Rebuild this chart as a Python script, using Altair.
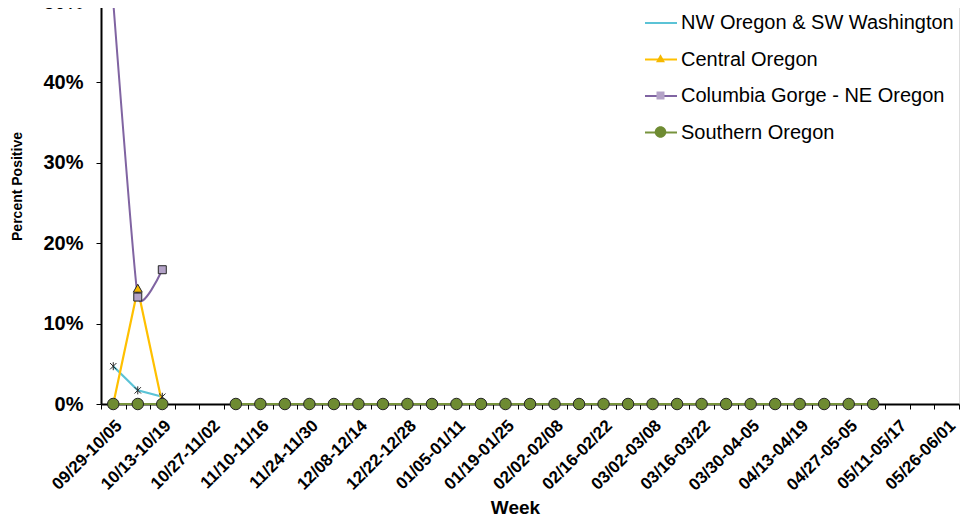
import json
import altair as alt
import pandas as pd

# ---------------- data ----------------
week_labels = ["09/29-10/05", "10/13-10/19", "10/27-11/02", "11/10-11/16", "11/24-11/30",
               "12/08-12/14", "12/22-12/28", "01/05-01/11", "01/19-01/25", "02/02-02/08",
               "02/16-02/22", "03/02-03/08", "03/16-03/22", "03/30-04-05", "04/13-04/19",
               "04/27-05-05", "05/11-05/17", "05/26-06/01"]
n_weeks = 35  # weekly categories; every other one is labelled

series_names = ["NW Oregon & SW Washington", "Central Oregon",
                "Columbia Gorge - NE Oregon", "Southern Oregon"]

nw_vals = [4.7, 1.7, 0.9]
central_vals = [0.0, 14.3, 0.0]
columbia_vals = [50.0, 13.3, 16.7]
southern_vals = [0, 0, 0, None, None, 0, 0, 0, 0, 0,
                 0, 0, 0, 0, 0, 0, 0, 0, 0, 0,
                 0, 0, 0, 0, 0, 0, 0, 0, 0, 0,
                 0, 0, None, None, None]

line_colors = ["#5BC3D6", "#FFC000", "#8064A2", "#77933C"]
marker_fills = ["#000000", "#F5B800", "#B3A2C7", "#6E8B32"]
# marker paths drawn inside a 32px symbol box (size 1024, unit = 16px)
marker_shapes = [
    "M-0.2,-0.2L0.2,0.2M-0.2,0.2L0.2,-0.2M0,-0.25L0,0.25",
    "M0,-0.3L0.28,0.2L-0.28,0.2Z",
    "M-0.25,-0.25L0.25,-0.25L0.25,0.25L-0.25,0.25Z",
    "M0.36,0A0.36,0.36,0,1,1,-0.36,0A0.36,0.36,0,1,1,0.36,0Z",
]

rows = []
for name, vals in zip(series_names, [nw_vals, central_vals, columbia_vals, southern_vals]):
    for i, v in enumerate(vals):
        rows.append({"week": i, "series": name, "value": v})
df = pd.DataFrame(rows)

# ---------------- chart ----------------
labels_js = json.dumps(week_labels)
x_label_expr = (f"((datum.value + 0.5) % 2 === 0) ? ({labels_js}[(datum.value + 0.5) / 2] || '') : ''")

x_enc = alt.X(
    "week:Q",
    scale=alt.Scale(domain=[-0.5, n_weeks - 0.5], nice=False, zero=False),
    axis=alt.Axis(
        values=[i - 0.5 for i in range(n_weeks + 1)],
        labelExpr=x_label_expr,
        labelOffset=12.26,
        labelAngle=-45,
        labelFlush=False,
        labelOverlap=False,
        labelFont="Liberation Sans",
        labelFontSize=17,
        labelFontWeight="bold",
        labelColor="black",
        labelPadding=8,
        tickSize=5,
        tickColor="black",
        domainColor="black",
        domainWidth=2,
        grid=False,
        title="Week",
        titleFont="Liberation Sans",
        titleFontSize=19,
        titleFontWeight="bold",
        titleColor="black",
        titleX=414,
        titleY=109,
        titleBaseline="alphabetic",
    ),
)

y_enc = alt.Y(
    "value:Q",
    scale=alt.Scale(domain=[0, 50], nice=False),
    axis=alt.Axis(
        values=[0, 10, 20, 30, 40, 50],
        labelExpr="datum.value + '%'",
        labelFont="Liberation Sans",
        labelFontSize=20,
        labelFontWeight="bold",
        labelColor="black",
        labelPadding=13,
        tickSize=5,
        tickColor="black",
        domainColor="black",
        domainWidth=2,
        grid=False,
        title="Percent Positive",
        titleFont="Liberation Sans",
        titleFontSize=14,
        titleFontWeight="bold",
        titleColor="black",
        titleAngle=270,
        titleX=-84,
        titleY=184,
        titleAlign="center",
        titleBaseline="middle",
    ),
)

legend_common = dict(
    title=None,
    orient="none",
    legendX=543,
    legendY=4,
    symbolSize=1024,
    rowPadding=9.5,
    labelFont="Liberation Sans",
    labelFontSize=20,
    labelColor="black",
    labelOffset=3,
    labelLimit=400,
    padding=0,
)

line_legend = alt.Legend(symbolType="stroke", symbolStrokeWidth=2, **legend_common)
marker_legend = alt.Legend(symbolStrokeColor="#262626", symbolStrokeWidth=1,
                           labelOpacity=0, **legend_common)

color_enc = alt.Color("series:N", scale=alt.Scale(domain=series_names, range=line_colors),
                      legend=line_legend)

base = alt.Chart(df)

lines_straight = base.transform_filter(
    alt.datum.series != "Columbia Gorge - NE Oregon"
).mark_line(strokeWidth=2.2).encode(x=x_enc, y=y_enc, color=color_enc,
                                    order=alt.Order("week:Q"))

line_smooth = base.transform_filter(
    alt.datum.series == "Columbia Gorge - NE Oregon"
).mark_line(strokeWidth=2, interpolate="cardinal", tension=0.6).encode(
    x=x_enc, y=y_enc,
    color=alt.Color("series:N", scale=alt.Scale(domain=series_names, range=line_colors),
                    legend=None),
    order=alt.Order("week:Q"),
)

points = base.transform_filter(
    "isValid(datum.value)"
).mark_point(filled=True, stroke="#262626", strokeWidth=1, opacity=1, size=1024).encode(
    x=x_enc, y=y_enc,
    fill=alt.Fill("series:N", scale=alt.Scale(domain=series_names, range=marker_fills),
                  legend=marker_legend),
    shape=alt.Shape("series:N", scale=alt.Scale(domain=series_names, range=marker_shapes),
                    legend=marker_legend),
)

chart = alt.layer(lines_straight, line_smooth, points).resolve_legend(
    color="independent", fill="independent", shape="independent"
).properties(
    width=858,
    height=402,
    autosize=alt.AutoSizeParams(type="none"),
    padding={"left": 93, "top": -6, "right": 4, "bottom": 111},
    background="white",
).configure_view(stroke=None).configure(font="Liberation Sans")

chart.save("out.html", embed_options={"renderer": "svg", "actions": False})
